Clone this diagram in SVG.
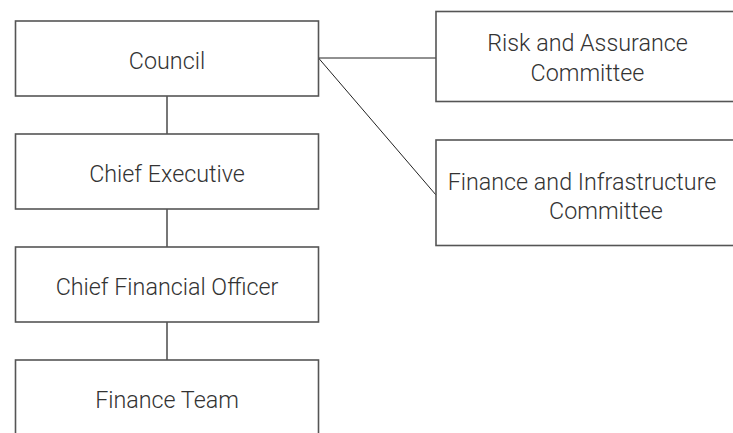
<svg xmlns="http://www.w3.org/2000/svg" width="733" height="433" viewBox="0 0 733 433">
<style>
.box{fill:#fff;stroke:#555;stroke-width:1.6}
.t{font-family:Roboto,"Liberation Sans",sans-serif;font-weight:300;font-size:23.3px;fill:#333;text-anchor:middle}
.v{stroke:#555;stroke-width:1.6;fill:none}
.d{stroke:#222;stroke-width:1;fill:none}
</style>
<rect width="733" height="433" fill="#fff"/>
<g id="connectors">
<line class="v" x1="167" y1="96" x2="167" y2="134"/>
<line class="v" x1="167" y1="209" x2="167" y2="247"/>
<line class="v" x1="167" y1="322" x2="167" y2="360"/>
<line class="d" x1="318.5" y1="58" x2="436" y2="58"/>
<line class="d" x1="318.5" y1="58" x2="436" y2="195"/>
</g>
<g id="council"><rect class="box" x="15.5" y="21" width="303" height="75"/><text class="t" x="167" y="68.5">Council</text></g>
<g id="chief-executive"><rect class="box" x="15.5" y="134" width="303" height="75"/><text class="t" x="167" y="181.5">Chief Executive</text></g>
<g id="cfo"><rect class="box" x="15.5" y="247" width="303" height="75"/><text class="t" x="167" y="294.5">Chief Financial Officer</text></g>
<g id="finance-team"><rect class="box" x="15.5" y="360" width="303" height="80"/><text class="t" x="167" y="407.5">Finance Team</text></g>
<g id="risk"><rect class="box" x="436" y="11.5" width="303" height="90"/><text class="t" x="587.5" y="51">Risk and Assurance</text><text class="t" x="587.5" y="80.5">Committee</text></g>
<g id="finance-infra"><rect class="box" x="436" y="140" width="303" height="105.5"/><text class="t" x="582" y="189.5">Finance and Infrastructure</text><text class="t" x="606" y="219">Committee</text></g>
</svg>
